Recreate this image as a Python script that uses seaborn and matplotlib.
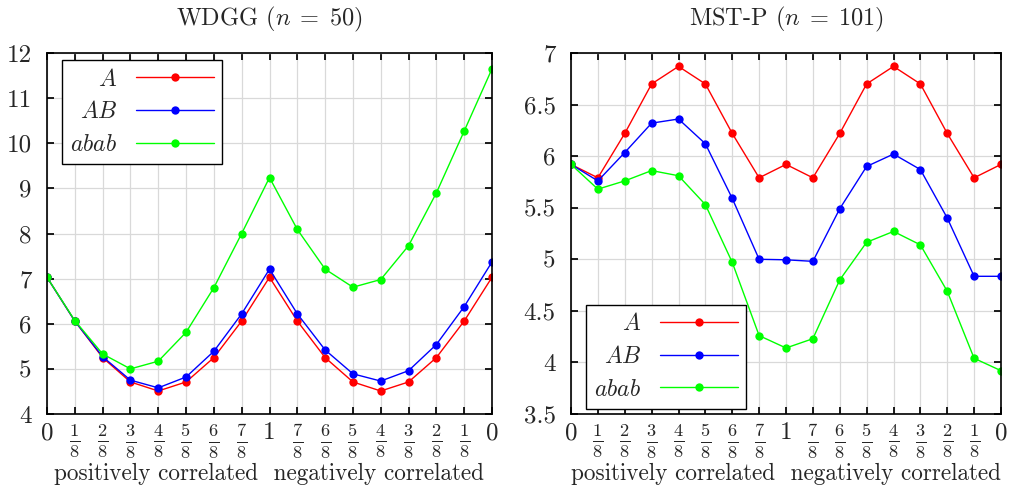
import pandas as pd
import matplotlib
matplotlib.use("Agg")
import matplotlib.pyplot as plt
import seaborn as sns

sns.set_theme(style="whitegrid")
plt.rcParams["font.family"] = ["cmr10", "DejaVu Serif"]
plt.rcParams["mathtext.fontset"] = "cm"
plt.rcParams["axes.formatter.use_mathtext"] = True
plt.rcParams["axes.unicode_minus"] = False

# x positions: correlation strength 0 -> 1 -> 0
x_labels = ["0", r"$\frac{1}{8}$", r"$\frac{2}{8}$", r"$\frac{3}{8}$", r"$\frac{4}{8}$",
            r"$\frac{5}{8}$", r"$\frac{6}{8}$", r"$\frac{7}{8}$", "1",
            r"$\frac{7}{8}$", r"$\frac{6}{8}$", r"$\frac{5}{8}$", r"$\frac{4}{8}$",
            r"$\frac{3}{8}$", r"$\frac{2}{8}$", r"$\frac{1}{8}$", "0"]
series_names = ["$A$", "$AB$", "$abab$"]
series_colors = ["#ff0000", "#0000ff", "#00ff00"]

# WDGG (n = 50)
wdgg_A = [7.03, 6.06, 5.25, 4.71, 4.51, 4.71, 5.25, 6.06, 7.03,
          6.06, 5.25, 4.71, 4.51, 4.71, 5.25, 6.06, 7.03]
wdgg_AB = [7.03, 6.06, 5.27, 4.75, 4.58, 4.82, 5.39, 6.22, 7.21,
           6.22, 5.42, 4.89, 4.73, 4.96, 5.54, 6.38, 7.37]
wdgg_abab = [7.03, 6.07, 5.33, 5.00, 5.17, 5.81, 6.80, 8.00, 9.24,
             8.09, 7.21, 6.81, 6.98, 7.73, 8.90, 10.27, 11.65]

# MST-P (n = 101)
mst_A = [5.92, 5.79, 6.22, 6.70, 6.87, 6.70, 6.22, 5.79, 5.92,
         5.79, 6.22, 6.70, 6.87, 6.70, 6.22, 5.79, 5.92]
mst_AB = [5.92, 5.76, 6.035, 6.32, 6.36, 6.12, 5.59, 5.00, 4.995,
          4.98, 5.49, 5.90, 6.02, 5.87, 5.40, 4.835, 4.835]
mst_abab = [5.92, 5.68, 5.76, 5.86, 5.81, 5.53, 4.97, 4.26, 4.14,
            4.23, 4.80, 5.165, 5.27, 5.14, 4.69, 4.04, 3.92]


def long_frame(values):
    rows = []
    for name, vals in zip(series_names, values):
        for i, v in enumerate(vals):
            rows.append({"x": i, "value": v, "series": name})
    return pd.DataFrame(rows)


def draw_panel(ax, df, title, ylim, yticks, yticklabels, legend_loc, legend_anchor):
    sns.lineplot(data=df, x="x", y="value", hue="series", hue_order=series_names,
                 palette=series_colors, marker="o", markersize=6, markeredgewidth=0,
                 linewidth=1.0, ax=ax, legend=True)
    ax.set_title(title, fontsize=17.5, pad=20)
    ax.set_xlim(0, len(x_labels) - 1)
    ax.set_ylim(*ylim)
    ax.set_xticks(range(len(x_labels)))
    ax.set_xticklabels(x_labels)
    for lbl in ax.get_xticklabels():
        txt = lbl.get_text()
        lbl.set_fontsize(18 if txt in ("0", "1") else 19)
    ax.set_yticks(yticks)
    ax.set_yticklabels(yticklabels, fontsize=18)
    ax.set_xlabel("positively correlated  negatively correlated", fontsize=16.7, labelpad=2)
    ax.set_ylabel("")
    ax.grid(True, color="#d9d9d9", linewidth=0.9)
    ax.set_facecolor("white")
    for s in ax.spines.values():
        s.set_color("black")
        s.set_linewidth(1.2)
    ax.tick_params(direction="in", length=5, color="black", top=True, right=True,
                   bottom=True, left=True)
    ax.tick_params(axis="y", pad=11)
    ax.tick_params(axis="x", pad=6)
    leg = ax.legend(loc=legend_loc, bbox_to_anchor=legend_anchor, markerfirst=False,
                    fontsize=17, handlelength=3.3, fancybox=False, framealpha=1,
                    edgecolor="black", borderpad=0.35, labelspacing=0.45,
                    handletextpad=0.8, borderaxespad=0)
    leg.get_frame().set_linewidth(1.0)
    for h in leg.legend_handles:
        h.set_linewidth(1.0)


fig = plt.figure(figsize=(10.09, 4.88), dpi=100)
ax1 = fig.add_axes([47 / 1009, 74 / 488, 445 / 1009, 361 / 488])
ax2 = fig.add_axes([571 / 1009, 74 / 488, 430 / 1009, 361 / 488])

draw_panel(ax1, long_frame([wdgg_A, wdgg_AB, wdgg_abab]), r"WDGG ($n\;=\;50$)",
           (4, 12), range(4, 13), [str(v) for v in range(4, 13)],
           "upper left", (0.034, 0.98))
draw_panel(ax2, long_frame([mst_A, mst_AB, mst_abab]), r"MST-P ($n\;=\;101$)",
           (3.5, 7), [3.5, 4, 4.5, 5, 5.5, 6, 6.5, 7],
           ["3.5", "4", "4.5", "5", "5.5", "6", "6.5", "7"],
           "lower left", (0.035, 0.014))

fig.savefig("out.png", dpi=100)
